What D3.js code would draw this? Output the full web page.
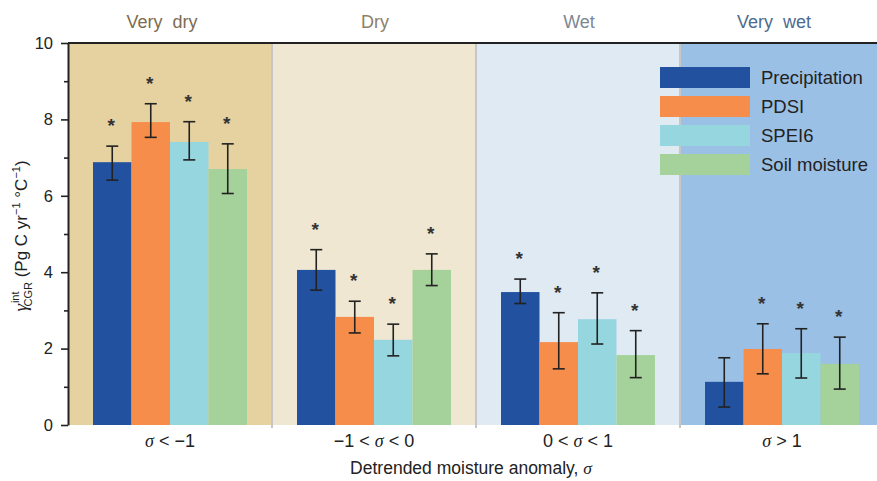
<!DOCTYPE html>
<html>
<head>
<meta charset="utf-8">
<script src="https://cdn.jsdelivr.net/npm/d3@7/dist/d3.min.js"></script>
<style>
  body { margin: 0; background: #fff; }
  svg { display: block; font-family: "Liberation Sans", Arial, sans-serif; }
</style>
</head>
<body>
<svg id="chart" width="877" height="481"></svg>
<script>
// ---------- data ----------
const groups = ["σ < −1", "−1 < σ < 0", "0 < σ < 1", "σ > 1"];
const regimes = ["Very  dry", "Dry", "Wet", "Very  wet"];
const series = ["Precipitation", "PDSI", "SPEI6", "Soil moisture"];

const precipitation = [6.88, 4.06, 3.48, 1.13];
const pdsi          = [7.93, 2.83, 2.17, 1.99];
const spei6         = [7.41, 2.23, 2.77, 1.88];
const soilMoisture  = [6.70, 4.06, 1.83, 1.60];

const precipitationLo = [6.41, 3.53, 3.18, 0.47];
const precipitationHi = [7.30, 4.59, 3.82, 1.76];
const pdsiLo          = [7.53, 2.41, 1.47, 1.34];
const pdsiHi          = [8.41, 3.24, 2.94, 2.65];
const spei6Lo         = [6.94, 1.81, 2.12, 1.23];
const spei6Hi         = [7.94, 2.64, 3.46, 2.52];
const soilMoistureLo  = [6.06, 3.65, 1.24, 0.94];
const soilMoistureHi  = [7.36, 4.48, 2.47, 2.30];

const precipitationSig = [true, true, true, false];
const pdsiSig          = [true, true, true, true];
const spei6Sig         = [true, true, true, true];
const soilMoistureSig  = [true, true, true, true];

const yTicks = [0, 2, 4, 6, 8, 10];
const yMinorTicks = [1, 3, 5, 7, 9];

// ---------- styling ----------
const seriesColors = ["#2251a0", "#f78d4b", "#95d6df", "#a5d29b"];
const panelColors = ["#e5d2a0", "#efe7d1", "#e0eaf3", "#9bc0e5"];
const regimeColors = ["#7d6c50", "#8c806a", "#7c8896", "#4c6b8e"];

const values = [precipitation, pdsi, spei6, soilMoisture];
const los = [precipitationLo, pdsiLo, spei6Lo, soilMoistureLo];
const his = [precipitationHi, pdsiHi, spei6Hi, soilMoistureHi];
const sigs = [precipitationSig, pdsiSig, spei6Sig, soilMoistureSig];

const rows = [];
groups.forEach((g, gi) => {
  series.forEach((s, si) => {
    rows.push({ group: g, series: s, si, value: values[si][gi], lo: los[si][gi], hi: his[si][gi], sig: sigs[si][gi] });
  });
});

// ---------- layout ----------
const svg = d3.select("#chart");
const margin = { left: 68, top: 43, bottom: 425 };
const plotRight = 884;

const x = d3.scaleBand().domain(groups).range([margin.left, plotRight]).paddingInner(0).paddingOuter(0);
const groupPad = 25;
const xs = d3.scaleBand().domain(series).range([groupPad, x.bandwidth() - groupPad]).padding(0);
const y = d3.scaleLinear().domain([0, 10]).range([margin.bottom, margin.top]);

// panels
svg.append("g").selectAll("rect").data(groups).join("rect")
  .attr("x", d => x(d)).attr("y", y(10))
  .attr("width", x.bandwidth()).attr("height", y(0) - y(10))
  .attr("fill", (d, i) => panelColors[i]);

// separators
svg.append("g").selectAll("line").data(groups.slice(1)).join("line")
  .attr("x1", d => x(d)).attr("x2", d => x(d))
  .attr("y1", y(10)).attr("y2", y(0) + 3)
  .attr("stroke", "#c6c6c6").attr("stroke-width", 2);

// regime labels
svg.append("g").selectAll("text").data(regimes).join("text")
  .attr("x", (d, i) => x(groups[i]) + x.bandwidth() / 2 - (i === 0 ? 8 : (i === 3 ? 8 : -1)))
  .attr("y", 28)
  .attr("text-anchor", "middle")
  .attr("font-size", 18)
  .attr("fill", (d, i) => regimeColors[i])
  .style("white-space", "pre")
  .text(d => d);

// bars
const bars = svg.append("g");
bars.selectAll("rect").data(rows).join("rect")
  .attr("x", d => x(d.group) + xs(d.series))
  .attr("y", d => y(d.value))
  .attr("width", xs.bandwidth())
  .attr("height", d => y(0) - y(d.value))
  .attr("fill", d => seriesColors[d.si]);

// error bars
const capW = 12;
const eb = svg.append("g").attr("stroke", "#222").attr("stroke-width", 1.6);
rows.forEach(d => {
  const cx = x(d.group) + xs(d.series) + xs.bandwidth() / 2;
  eb.append("line").attr("x1", cx).attr("x2", cx).attr("y1", y(d.lo)).attr("y2", y(d.hi));
  eb.append("line").attr("x1", cx - capW / 2).attr("x2", cx + capW / 2).attr("y1", y(d.lo)).attr("y2", y(d.lo));
  eb.append("line").attr("x1", cx - capW / 2).attr("x2", cx + capW / 2).attr("y1", y(d.hi)).attr("y2", y(d.hi));
});

// significance stars
svg.append("g").selectAll("text").data(rows.filter(d => d.sig)).join("text")
  .attr("x", d => x(d.group) + xs(d.series) + xs.bandwidth() / 2 - 1)
  .attr("y", d => y(d.hi) - 14)
  .attr("text-anchor", "middle")
  .attr("font-size", 19)
  .attr("font-weight", "bold")
  .attr("fill", "#333")
  .text("*");

// top border
svg.append("line")
  .attr("x1", margin.left).attr("x2", plotRight)
  .attr("y1", y(10)).attr("y2", y(10))
  .attr("stroke", "#222").attr("stroke-width", 2);

// y axis
const yAxis = svg.append("g").attr("transform", `translate(${margin.left},0)`)
  .call(d3.axisLeft(y).tickValues(yTicks).tickSize(7).tickSizeOuter(0).tickPadding(8));
yAxis.select(".domain").attr("stroke", "#222").attr("stroke-width", 2);
yAxis.selectAll(".tick line").attr("stroke", "#222").attr("stroke-width", 1.6);
yAxis.selectAll(".tick text").attr("font-size", 16.5).attr("fill", "#222").attr("font-family", "Liberation Sans, Arial, sans-serif");
const yMinor = svg.append("g").attr("transform", `translate(${margin.left},0)`)
  .call(d3.axisLeft(y).tickValues(yMinorTicks).tickSize(4).tickFormat(""));
yMinor.select(".domain").remove();
yMinor.selectAll(".tick line").attr("stroke", "#222").attr("stroke-width", 1.6);

// x category labels
const catLabel = svg.append("g").selectAll("text").data(groups).join("text")
  .attr("x", d => x(d) + x.bandwidth() / 2)
  .attr("y", 447)
  .attr("text-anchor", "middle")
  .attr("font-size", 18)
  .attr("fill", "#222");
catLabel.each(function(d) {
  const t = d3.select(this);
  const parts = d.split("σ");
  parts.forEach((p, i) => {
    if (i > 0) t.append("tspan").attr("font-style", "italic").attr("font-family", "Liberation Serif, serif").text("σ");
    if (p) t.append("tspan").text(p);
  });
});

// x axis title
const xt = svg.append("text")
  .attr("x", (margin.left + plotRight) / 2 - 5)
  .attr("y", 474)
  .attr("text-anchor", "middle")
  .attr("font-size", 17.5)
  .attr("fill", "#222");
xt.append("tspan").text("Detrended moisture anomaly, ");
xt.append("tspan").attr("font-style", "italic").attr("font-family", "Liberation Serif, serif").text("σ");

// y axis title
const yl = svg.append("g").attr("transform", "translate(27,236) rotate(-90)");
const yt = yl.append("text").attr("font-size", 17).attr("fill", "#222").attr("text-anchor", "middle");
yt.append("tspan").attr("font-style", "italic").attr("font-family", "Liberation Serif, serif").attr("font-size", 19).text("γ");
yt.append("tspan").attr("font-size", 11).attr("dx", 1).attr("dy", -8).text("int");
yt.append("tspan").attr("font-size", 11).attr("dy", 13).attr("dx", -15).text("CGR");
yt.append("tspan").attr("dy", -5).text(" (Pg C yr");
yt.append("tspan").attr("font-size", 11).attr("dy", -7).text("−1");
yt.append("tspan").attr("dy", 7).text(" °C");
yt.append("tspan").attr("font-size", 11).attr("dy", -7).text("−1");
yt.append("tspan").attr("dy", 7).text(")");

// legend
const legend = svg.append("g").attr("transform", "translate(660,67)");
const lg = legend.selectAll("g").data(series).join("g")
  .attr("transform", (d, i) => `translate(0,${i * 29})`);
lg.append("rect").attr("width", 90).attr("height", 21).attr("fill", (d, i) => seriesColors[i]);
lg.append("text").attr("x", 101).attr("y", 17).attr("font-size", 18.5).attr("fill", "#222").text(d => d);
</script>
</body>
</html>
